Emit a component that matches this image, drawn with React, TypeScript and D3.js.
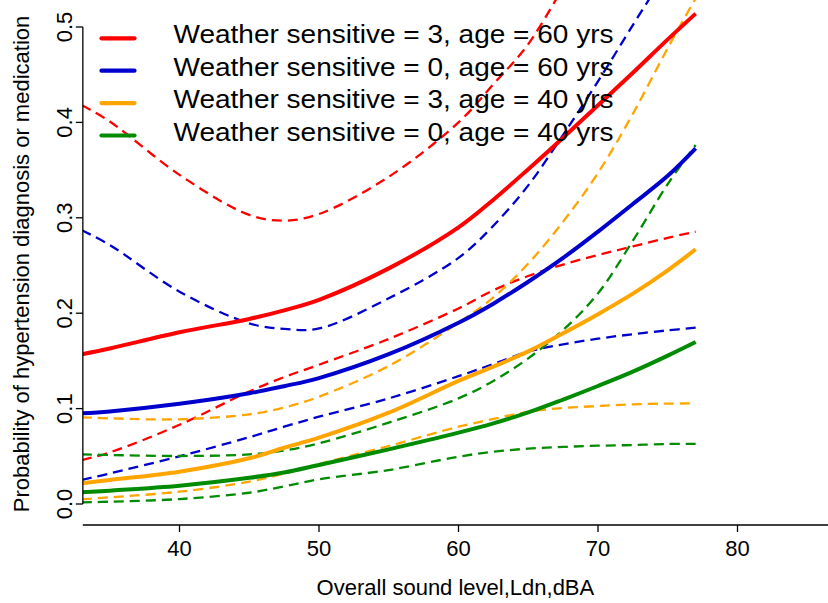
import React from "react";
import * as d3 from "d3";

// Overall sound level (Ldn, dBA) at which the predictions are evaluated
const LDN = [33, 35, 40, 45, 47.5, 50, 55, 60, 62.5, 65, 67.5, 70, 72.5, 75, 77];

// Predicted probability and 95% confidence bounds for each profile
const ws3Age60Fit = [0.157, 0.163, 0.18, 0.194, 0.203, 0.214, 0.247, 0.29, 0.319, 0.351, 0.384, 0.418, 0.452, 0.487, 0.514];
const ws3Age60Lo = [0.046, 0.054, 0.083, 0.118, 0.133, 0.146, 0.173, 0.205, 0.224, 0.239, 0.251, 0.261, 0.27, 0.279, 0.2855];
const ws3Age60Hi = [0.418, 0.401, 0.345, 0.303, 0.297, 0.304, 0.343, 0.4, 0.44, 0.482, 0.542, null, null, null, null];

const ws0Age60Fit = [0.095, 0.097, 0.105, 0.116, 0.1235, 0.132, 0.157, 0.19, 0.21, 0.233, 0.258, 0.2855, 0.3145, 0.344, 0.3728];
const ws0Age60Lo = [0.0252, 0.032, 0.05, 0.07, 0.081, 0.0915, 0.1107, 0.134, 0.1467, 0.1597, 0.1674, 0.1733, 0.178, 0.182, 0.1848];
const ws0Age60Hi = [0.287, 0.2715, 0.2226, 0.1894, 0.1835, 0.184, 0.2156, 0.258, 0.2917, 0.334, 0.387, 0.443, 0.502, 0.56, null];

const ws3Age40Fit = [0.0217, 0.0252, 0.0339, 0.0479, 0.059, 0.0695, 0.0957, 0.129, 0.144, 0.16, 0.179, 0.199, 0.2205, 0.245, 0.267];
const ws3Age40Lo = [0.0049, 0.007, 0.0129, 0.0234, 0.032, 0.0419, 0.0608, 0.081, 0.0891, 0.0968, 0.1006, 0.1027, 0.1045, 0.1052, 0.1055];
const ws3Age40Hi = [0.0909, 0.0898, 0.0888, 0.094, 0.101, 0.1125, 0.1447, 0.19, 0.2166, 0.252, 0.296, 0.347, 0.409, 0.478, 0.53];

const ws0Age40Fit = [0.0122, 0.014, 0.0192, 0.0275, 0.033, 0.0409, 0.0573, 0.0748, 0.0845, 0.096, 0.1095, 0.1237, 0.1387, 0.1555, 0.1698];
const ws0Age40Lo = [0.0017, 0.0024, 0.0052, 0.0118, 0.0185, 0.0259, 0.0356, 0.0496, 0.0548, 0.058, 0.0598, 0.0611, 0.0618, 0.0629, 0.063];
const ws0Age40Hi = [0.052, 0.0514, 0.0503, 0.052, 0.056, 0.0636, 0.0853, 0.1107, 0.129, 0.1527, 0.1824, 0.2208, 0.276, 0.3354, 0.3763];

const LEGEND_LABELS = [
  "Weather sensitive = 3, age = 60 yrs",
  "Weather sensitive = 0, age = 60 yrs",
  "Weather sensitive = 3, age = 40 yrs",
  "Weather sensitive = 0, age = 40 yrs",
];
const COLORS = ["#ff0000", "#0000cd", "#ffa500", "#008b00"];

const X_TICKS = [40, 50, 60, 70, 80];
const Y_TICKS = [0, 0.1, 0.2, 0.3, 0.4, 0.5];

const X_TITLE = "Overall sound level,Ldn,dBA";
const Y_TITLE = "Probability of hypertension diagnosis or medication";

const groups = [
  { fit: ws3Age60Fit, lo: ws3Age60Lo, hi: ws3Age60Hi },
  { fit: ws0Age60Fit, lo: ws0Age60Lo, hi: ws0Age60Hi },
  { fit: ws3Age40Fit, lo: ws3Age40Lo, hi: ws3Age40Hi },
  { fit: ws0Age40Fit, lo: ws0Age40Lo, hi: ws0Age40Hi },
];

const W = 828;
const H = 603;
const FONT = "'Liberation Sans', Arial, Helvetica, sans-serif";

export default function App() {
  const x = d3.scaleLinear().domain([40, 80]).range([179.5, 737.5]);
  const y = d3.scaleLinear().domain([0, 0.5]).range([504, 27]);

  const axisX = x(33) + 1; // left edge of the plotting region
  const axisY = 525; // baseline of the x axis

  const line = d3
    .line<[number, number | null]>()
    .defined((d) => d[1] !== null)
    .x((d) => x(d[0]))
    .y((d) => y(d[1] as number))
    .curve(d3.curveCatmullRom.alpha(0.5));

  const pts = (vals: (number | null)[]) =>
    LDN.map((v, i) => [v, vals[i]] as [number, number | null]);

  const legendX0 = 101.5;
  const legendX1 = 134.5;
  const legendTextX = 173.5;
  const legendBase = 43.3;
  const legendStep = 32.4;

  return (
    <svg
      width={W}
      height={H}
      viewBox={`0 0 ${W} ${H}`}
      style={{ position: "absolute", left: 0, top: 0, background: "#fff" }}
      fontFamily={FONT}
    >
      <defs>
        <clipPath id="plotArea">
          <rect x={axisX} y={0} width={W - axisX} height={axisY} />
        </clipPath>
      </defs>
      <rect x={0} y={0} width={W} height={H} fill="#fff" />

      {/* confidence bounds */}
      <g clipPath="url(#plotArea)" fill="none">
        {groups.map((g, i) => (
          <g key={`ci-${i}`} stroke={COLORS[i]} strokeWidth={2.3} strokeDasharray="10,6">
            <path d={line(pts(g.hi)) || ""} />
            <path d={line(pts(g.lo)) || ""} />
          </g>
        ))}
        {/* predicted probabilities */}
        {groups.map((g, i) => (
          <path
            key={`fit-${i}`}
            d={line(pts(g.fit)) || ""}
            stroke={COLORS[i]}
            strokeWidth={4}
            strokeLinejoin="round"
          />
        ))}
      </g>

      {/* y axis */}
      <g stroke="#000" strokeWidth={1.3}>
        <line x1={axisX} x2={axisX} y1={y(0)} y2={y(0.5)} />
        {Y_TICKS.map((t) => (
          <line key={t} x1={axisX - 7} x2={axisX} y1={y(t)} y2={y(t)} />
        ))}
      </g>
      {Y_TICKS.map((t) => (
        <text
          key={`yl-${t}`}
          transform={`translate(72,${y(t)}) rotate(-90)`}
          textAnchor="middle"
          fontSize={22}
          fill="#000"
        >
          {t.toFixed(1)}
        </text>
      ))}

      {/* x axis */}
      <g stroke="#000" strokeWidth={1.3}>
        <line x1={axisX} x2={W} y1={axisY} y2={axisY} />
        {X_TICKS.map((t) => (
          <line key={t} x1={x(t)} x2={x(t)} y1={axisY} y2={axisY + 7} />
        ))}
      </g>
      {X_TICKS.map((t) => (
        <text key={`xl-${t}`} x={x(t)} y={556} textAnchor="middle" fontSize={22} fill="#000">
          {t}
        </text>
      ))}

      {/* axis titles */}
      <text x={(axisX + W) / 2} y={595} textAnchor="middle" fontSize={22} fill="#000">
        {X_TITLE}
      </text>
      <text
        transform={`translate(28.5,${264}) rotate(-90)`}
        textAnchor="middle"
        fontSize={22}
        fill="#000"
      >
        {Y_TITLE}
      </text>

      {/* legend */}
      {LEGEND_LABELS.map((label, i) => {
        const base = legendBase + i * legendStep;
        return (
          <g key={label}>
            <line
              x1={legendX0}
              x2={legendX1}
              y1={base - 5}
              y2={base - 5}
              stroke={COLORS[i]}
              strokeWidth={4.2}
              strokeLinecap="round"
            />
            <text
              x={legendTextX}
              y={base}
              fontSize={26}
              fill="#000"
              textLength={440}
              lengthAdjust="spacingAndGlyphs"
            >
              {label}
            </text>
          </g>
        );
      })}
    </svg>
  );
}
